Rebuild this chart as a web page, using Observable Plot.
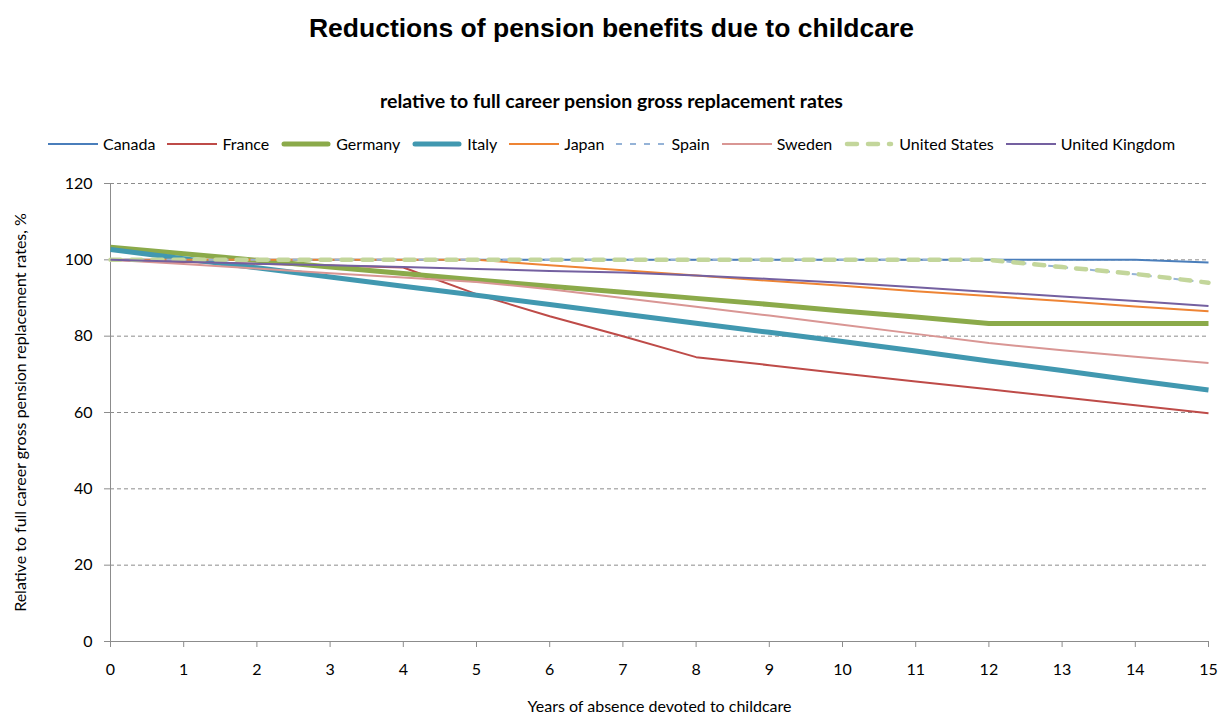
<!DOCTYPE html>
<html>
<head>
<meta charset="utf-8">
<script src="https://cdn.jsdelivr.net/npm/d3@7"></script>
<script src="https://cdn.jsdelivr.net/npm/@observablehq/plot@0.6"></script>
<style>
  html, body { margin: 0; padding: 0; background: #fff; }
  body { width: 1223px; height: 715px; position: relative; overflow: hidden; }
  #title { position: absolute; left: 0; top: 12px; width: 1223px; text-align: center;
    font: bold 26.5px "Liberation Sans", Arial, sans-serif; line-height: 32px; }
  #subtitle { position: absolute; left: 0; top: 89px; width: 1223px; text-align: center;
    font: bold 19.5px Lato, sans-serif; line-height: 24px; }
  #legend { position: absolute; left: 0; top: 133px; width: 1223px; display: flex; justify-content: center;
    font: 16px Lato, sans-serif; line-height: 22px; }
  .item { display: flex; align-items: center; margin: 0 6px; }
  .item svg { margin-right: 5px; }
  #chart { position: absolute; left: 0; top: 160px; }
</style>
</head>
<body>
<div id="title">Reductions of pension benefits due to childcare</div>
<div id="subtitle">relative to full career pension gross replacement rates</div>
<div id="legend"></div>
<div id="chart"></div>
<script>
const years = [0, 1, 2, 3, 4, 5, 6, 7, 8, 9, 10, 11, 12, 13, 14, 15];
const yTicks = [0, 20, 40, 60, 80, 100, 120];
const yGrid = [20, 40, 60, 80, 100, 120];

const canada  = [100, 100, 100, 100, 100, 100, 100, 100, 100, 100, 100, 100, 100, 100, 100, 99.3];
const france  = [100, 99.4, 99, 98.5, 98, 91, 85.2, 80, 74.5, 72.4, 70.2, 68.1, 66.1, 64, 61.9, 59.8];
const germany = [103.3, 101.6, 99.9, 98.1, 96.4, 94.7, 93.1, 91.5, 89.9, 88.3, 86.6, 85, 83.3, 83.3, 83.3, 83.3];
const italy   = [102.7, 100.3, 97.9, 95.5, 93.1, 90.7, 88.3, 85.8, 83.4, 81, 78.6, 76.1, 73.5, 71, 68.4, 65.9];
const japan   = [100, 100, 100, 100, 100, 100, 98.6, 97.3, 95.9, 94.5, 93.2, 91.8, 90.5, 89.2, 87.8, 86.5];
const spain   = [100, 100, 100, 100, 100, 100, 100, 100, 100, 100, 100, 100, 100, 98.1, 96.2, 94];
const sweden  = [100, 98.9, 97.7, 96.5, 95.4, 94.2, 92.3, 90, 87.7, 85.4, 83, 80.6, 78.2, 76.3, 74.6, 73];
const us      = [100, 100, 100, 100, 100, 100, 100, 100, 100, 100, 100, 100, 100, 98.1, 96.3, 94];
const uk      = [100, 99.5, 99, 98.6, 98.1, 97.6, 97.1, 96.7, 95.9, 95, 94, 92.8, 91.6, 90.4, 89.2, 87.9];

const series = [
  {name: "Canada", values: canada, color: "#4A7EBB", width: 2, dash: null},
  {name: "France", values: france, color: "#BE4B48", width: 2, dash: null},
  {name: "Germany", values: germany, color: "#8BAA4A", width: 5, dash: null},
  {name: "Italy", values: italy, color: "#4198B0", width: 5, dash: null},
  {name: "Japan", values: japan, color: "#EE8434", width: 2, dash: null},
  {name: "Spain", values: spain, color: "#95B3D7", width: 2, dash: "6,8"},
  {name: "Sweden", values: sweden, color: "#D99694", width: 2, dash: null},
  {name: "United States", values: us, color: "#C3D69B", width: 4.5, dash: "10,11"},
  {name: "United Kingdom", values: uk, color: "#7460A0", width: 2, dash: null}
];

// Legend
const legend = document.getElementById("legend");
for (const s of series) {
  const item = document.createElement("div");
  item.className = "item";
  item.innerHTML = `<svg width="50" height="12"><line x1="${s.width > 3 ? 3 : 0}" y1="6" x2="${s.width > 3 ? 47 : 50}" y2="6" stroke="${s.color}" stroke-width="${s.width}" stroke-linecap="${s.width > 3 ? "round" : "butt"}" ${s.dash ? `stroke-dasharray="${s.dash}"` : ""}/></svg><span>${s.name}</span>`;
  legend.appendChild(item);
}

const lineMarks = series.map(s => Plot.line(
  s.values.map((v, i) => ({year: years[i], value: v})),
  {x: "year", y: "value", stroke: s.color, strokeWidth: s.width,
   strokeDasharray: s.dash ?? undefined,
   strokeLinecap: s.dash && s.width > 3 ? "round" : "butt", strokeLinejoin: "round"}
));

const chart = Plot.plot({
  width: 1223,
  height: 555,
  marginTop: 23,
  marginBottom: 74,
  marginLeft: 110,
  marginRight: 15,
  style: {fontFamily: "Lato, sans-serif", fontSize: "16px", color: "#000", background: "transparent"},
  x: {domain: [0, 15]},
  y: {domain: [0, 120]},
  marks: [
    Plot.gridY(yGrid, {stroke: "#8c8c8c", strokeOpacity: 1, strokeDasharray: "4,3"}),
    Plot.axisY({ticks: yTicks, tickSize: 6, tickPadding: 12, stroke: "#8c8c8c", fill: "#000",
      label: "Relative to full career gross pension replacement rates, %", labelAnchor: "center",
      labelOffset: 96, labelArrow: "none"}),
    Plot.axisX({ticks: years, tickSize: 6, tickPadding: 16, stroke: "#8c8c8c", fill: "#000",
      tickFormat: d => String(d),
      label: "Years of absence devoted to childcare", labelAnchor: "center", labelOffset: 70, labelArrow: "none"}),
    Plot.ruleX([0], {stroke: "#8c8c8c"}),
    Plot.ruleY([0], {stroke: "#8c8c8c"}),
    ...lineMarks
  ]
});
document.getElementById("chart").appendChild(chart);
</script>
</body>
</html>
